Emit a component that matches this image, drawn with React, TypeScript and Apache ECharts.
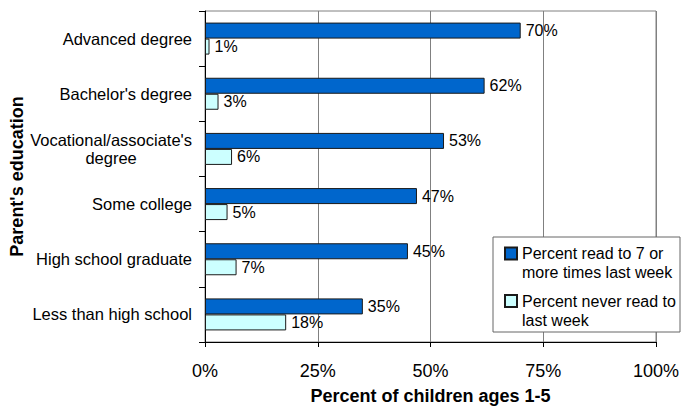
import React, { useEffect, useRef } from "react";
import * as echarts from "echarts";

const categories = [
  "Less than high school",
  "High school graduate",
  "Some college",
  "Vocational/associate's degree",
  "Bachelor's degree",
  "Advanced degree",
];
const readOften = [35, 45, 47, 53, 62, 70];
const neverRead = [18, 7, 5, 6, 3, 1];

const seriesNames = ["Percent read to 7 or more times last week", "Percent never read to last week"];
const legendLines: Record<string, string> = {
  [seriesNames[0]]: "Percent read to 7 or\nmore times last week",
  [seriesNames[1]]: "Percent never read to\nlast week",
};

const FONT = "'Liberation Sans', Arial, sans-serif";

export default function App() {
  const ref = useRef<HTMLDivElement>(null);
  useEffect(() => {
    if (!ref.current) return;
    const chart = echarts.init(ref.current, null, { renderer: "svg" });
    const legendCommon = {
      orient: "vertical",
      padding: 0,
      icon: "rect",
      itemWidth: 12,
      itemHeight: 12,
      borderWidth: 0,
      z: 5,
      textStyle: { fontFamily: FONT, fontSize: 16, color: "#000", lineHeight: 19 },
      formatter: (n: string) => "\n" + legendLines[n],
    };
    chart.setOption({
      animation: false,
      textStyle: { fontFamily: FONT },
      grid: {
        left: 205,
        right: 27,
        top: 11,
        bottom: 66,
        show: true,
        borderColor: "#808080",
        borderWidth: 1,
        containLabel: false,
        outerBoundsMode: "none",
      },
      graphic: [
        {
          type: "rect",
          z: 4,
          shape: { x: 493, y: 237, width: 187, height: 95 },
          style: { fill: "#fff", stroke: "#666", lineWidth: 1 },
        },
      ],
      legend: [
        { ...legendCommon, data: [seriesNames[0]], left: 504, top: 225 },
        { ...legendCommon, data: [seriesNames[1]], left: 504, top: 272.5 },
      ],
      xAxis: {
        type: "value",
        min: 0,
        max: 100,
        interval: 25,
        name: "Percent of children ages 1-5",
        nameLocation: "middle",
        nameGap: 45,
        nameMoveOverlap: false,
        nameTextStyle: { fontFamily: FONT, fontSize: 18, fontWeight: "bold", color: "#000" },
        axisLine: { show: true, lineStyle: { color: "#000", width: 1 } },
        axisTick: { show: true, length: 5, lineStyle: { color: "#000" } },
        axisLabel: { formatter: "{value}%", fontSize: 18, color: "#000", margin: 20, fontFamily: FONT },
        splitLine: { show: true, lineStyle: { color: "#808080", width: 1 } },
      },
      yAxis: {
        type: "category",
        data: categories,
        name: "Parent's education",
        nameLocation: "middle",
        nameGap: 179,
        nameRotate: 90,
        nameMoveOverlap: false,
        nameTextStyle: { fontFamily: FONT, fontSize: 18, fontWeight: "bold", color: "#000" },
        axisLine: { show: true, lineStyle: { color: "#000", width: 1 } },
        axisTick: { show: true, length: 6, lineStyle: { color: "#000" } },
        axisLabel: {
          margin: 13,
          fontSize: 16.5,
          color: "#000",
          fontFamily: FONT,
          formatter: (v: string) =>
            v === "Vocational/associate's degree" ? "{c|Vocational/associate's}\n{c|degree}" : v,
          rich: {
            c: { align: "center", fontSize: 16.5, fontFamily: FONT, color: "#000", lineHeight: 18 },
          },
        },
        splitLine: { show: false },
      },
      series: [
        {
          name: seriesNames[0],
          type: "bar",
          data: readOften,
          barWidth: 16,
          barGap: "0%",
          itemStyle: { color: "#0066CC", borderColor: "#1a1a1a", borderWidth: 1 },
          label: { show: true, position: "right", distance: 5, formatter: "{c}%", fontSize: 16, color: "#000", fontFamily: FONT },
        },
        {
          name: seriesNames[1],
          type: "bar",
          data: neverRead,
          barWidth: 16,
          barGap: "0%",
          itemStyle: { color: "#CCFFFF", borderColor: "#1a1a1a", borderWidth: 1 },
          label: { show: true, position: "right", distance: 5, formatter: "{c}%", fontSize: 16, color: "#000", fontFamily: FONT },
        },
      ],
    });
    return () => chart.dispose();
  }, []);
  return (
    <div
      ref={ref}
      style={{ position: "fixed", left: 0, top: 0, width: 683, height: 408, background: "#fff" }}
    />
  );
}
